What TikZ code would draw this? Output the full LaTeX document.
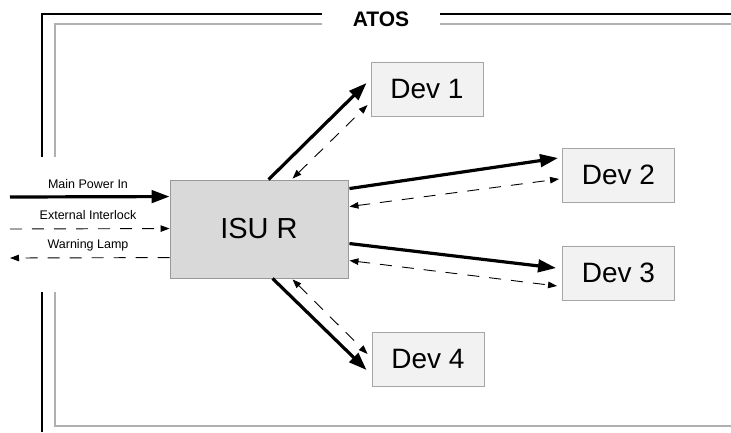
\documentclass[tikz,border=0pt]{standalone}
\usepackage{fontspec}
\setmainfont{Liberation Sans}
\usetikzlibrary{arrows.meta,calc}
\definecolor{devfill}{HTML}{F2F2F2}
\definecolor{devline}{HTML}{A6A6A6}
\definecolor{isufill}{HTML}{D9D9D9}
\definecolor{isuline}{HTML}{999999}
\definecolor{framegray}{HTML}{B0B0B0}
\tikzset{sigtip/.tip={Triangle[length=9pt,width=6.5pt]}}
\begin{document}
\begin{tikzpicture}[x=1pt,y=-1pt,
  devbox/.style={draw=devline, fill=devfill, line width=0.9pt, minimum width=112pt, minimum height=54pt, inner sep=0pt, font=\fontsize{28}{32}\selectfont},
  isubox/.style={draw=isuline, fill=isufill, line width=0.9pt, minimum width=178pt, minimum height=98pt, inner sep=0pt, font=\fontsize{29}{33}\selectfont},
  power/.style={line width=3.2pt, -{Triangle[length=18pt,width=12.5pt]}},
  sig/.style={line width=0.9pt, dash pattern=on 12pt off 10pt},
  lbl/.style={font=\fontsize{12.5}{14}\selectfont, inner sep=0pt},
  outerframe/.style={line width=2.6pt, black},
  innerframe/.style={line width=1.6pt, framegray}
]
\useasboundingbox (0,0) rectangle (731,432);
% frames
\draw[outerframe] (42,157) -- (42,14) -- (322,14);
\draw[outerframe] (42,292) -- (42,432);
\draw[outerframe] (440,14) -- (733,14);
\draw[innerframe] (322,24) -- (55,24) -- (55,157);
\draw[innerframe] (55,292) -- (55,426) -- (733,426);
\draw[innerframe] (440,24) -- (733,24);
\node[font=\bfseries\fontsize{21}{24}\selectfont, inner sep=0pt] (atos) at (381,19) {ATOS};

% nodes
\node[isubox] (isu) at (259,229) {ISU R};
\node[devbox] (dev1) at (427,89) {Dev 1};
\node[devbox] (dev2) at (618.5,175) {Dev 2};
\node[devbox] (dev3) at (618.5,273) {Dev 3};
\node[devbox] (dev4) at (428,359) {Dev 4};

% left side
\coordinate (pin) at (10,197);
\coordinate (ilk) at (10,229);
\coordinate (lamp) at (10,258);
\draw[power] (pin) -- ($(isu.north west)+(0,17)$);
\draw[sig, -sigtip] (ilk) -- ($(isu.north west)+(0,49)$);
\draw[sig, -sigtip] ($(isu.north west)+(0,78)$) -- (lamp);
\node[lbl] (lpin) at (88,184) {Main Power In};
\node[lbl] (lilk) at (88,215) {External Interlock};
\node[lbl] (llamp) at (88,245) {Warning Lamp};

% Dev 1
\draw[power] ($(isu.north west)+(99,0)$) -- ($(dev1.west)+(-4,-6)$);
\draw[sig, sigtip-sigtip] ($(isu.north west)+(123,-1)$) -- ($(dev1.west)+(-3,16)$);
% Dev 2
\draw[power] ($(isu.north east)+(1,9)$) -- ($(dev2.west)+(-4,-17)$);
\draw[sig, sigtip-sigtip] ($(isu.north east)+(1,27)$) -- ($(dev2.west)+(-3,4)$);
% Dev 3
\draw[power] ($(isu.north east)+(1,64)$) -- ($(dev3.west)+(-6,-5)$);
\draw[sig, sigtip-sigtip] ($(isu.north east)+(1,81)$) -- ($(dev3.west)+(-5,13)$);
% Dev 4
\draw[power] ($(isu.south west)+(103,0)$) -- ($(dev4.west)+(-5,11)$);
\draw[sig, sigtip-sigtip] ($(isu.south west)+(123,1)$) -- ($(dev4.west)+(-4,-5)$);
\end{tikzpicture}
\end{document}
